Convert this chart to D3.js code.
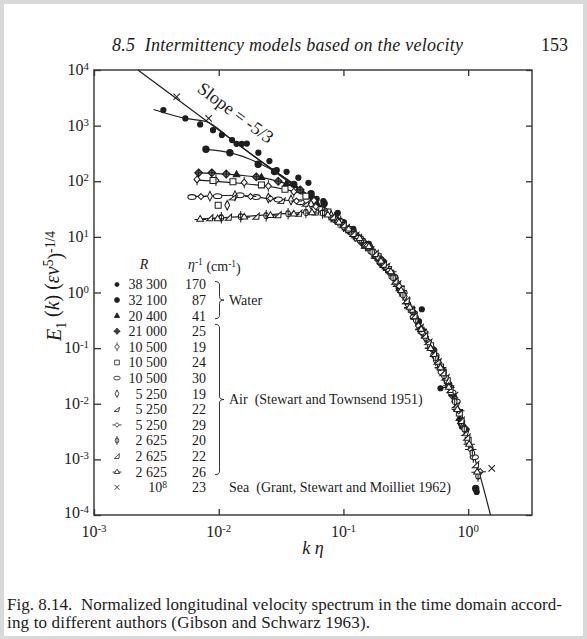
<!DOCTYPE html>
<html>
<head>
<meta charset="utf-8">
<script src="https://cdn.jsdelivr.net/npm/d3@7"></script>
<style>
  html, body { margin: 0; padding: 0; background: #d9d9d9; }
  svg { display: block; }
  text { font-family: "Liberation Serif", "Times New Roman", "DejaVu Serif", serif; fill: #1b1b1b; white-space: pre; }
</style>
</head>
<body>
<svg id="chart" width="587" height="639"></svg>
<script>
// ---------- axis ticks ----------
const xTickValues = [1e-3, 1e-2, 1e-1, 1e0];
const xTickExponents = ["-3", "-2", "-1", "0"];
const yTickValues = [1e4, 1e3, 1e2, 1e1, 1e0, 1e-1, 1e-2, 1e-3, 1e-4];
const yTickExponents = ["4", "3", "2", "1", "0", "-1", "-2", "-3", "-4"];

// ---------- legend table ----------
const legendReynolds = ["38 300", "32 100", "20 400", "21 000", "10 500", "10 500", "10 500",
                        "5 250", "5 250", "5 250", "2 625", "2 625", "2 625", "10"];
const legendReynoldsExp = ["", "", "", "", "", "", "", "", "", "", "", "", "", "8"];
const legendEtaInv = ["170", "87", "41", "25", "19", "24", "30", "19", "22", "29", "20", "22", "26", "23"];
const groupWater = "Water";
const groupAir = "Air  (Stewart and Townsend 1951)";
const groupSea = "Sea  (Grant, Stewart and Moilliet 1962)";

// ---------- measured spectra [k eta, E1(k)(eps nu^5)^-1/4] ----------
const water38300 = [[0.0036,1900],[0.0054,1350],[0.0071,1050],[0.009,830],[0.0106,680],[0.0128,550],
  [0.0139,470],[0.0153,468],[0.0168,475],[0.0208,326],[0.0255,231],[0.0292,158],[0.035,148],[0.0435,116],
  [0.0524,94],[0.0557,52],[0.061,48],[0.069,44],[0.09,27],[0.12,14],[0.16,7.5],[0.21,3.6],[0.26,1.9],
  [0.33,0.62],[0.425,0.5],[0.6,0.019],[0.89,0.0039],[1.17,0.00026]];
const water32100 = [[0.0079,375],[0.0123,326],[0.0207,202],[0.028,150],[0.04,88],[0.055,60],[0.07,40],
  [0.1,18],[0.15,7.4],[0.2,3.9],[0.28,1.2],[0.4,0.3],[0.55,0.07],[0.7,0.022],[0.88,0.0045],[1.15,0.0003]];
const water20400 = [[0.0139,132],[0.022,118],[0.035,92],[0.06,44],[0.09,20],[0.13,10],[0.19,4.2],
  [0.3,0.95],[0.45,0.17],[0.62,0.042],[0.85,0.0055]];
const air21000 = [[0.0069,142],[0.0088,142],[0.0115,135],[0.02,120],[0.03,100],[0.045,70],[0.07,30],
  [0.11,13],[0.17,5.5],[0.24,2.2],[0.36,0.45],[0.52,0.095],[0.75,0.014],
  [0.09,19],[0.14,8],[0.2,3.3],[0.3,0.95],[0.44,0.18],[0.62,0.04],[0.95,0.0035]];
const air10500a = [[0.0067,108],[0.0095,104],[0.016,95],[0.025,82],[0.04,65],[0.058,45],[0.085,22],
  [0.125,10.5],[0.18,4.8],[0.27,1.5],[0.4,0.25],[0.58,0.055],[0.9,0.0042],
  [0.1,15.5],[0.15,7],[0.22,2.8],[0.33,0.6],[0.48,0.13],[0.7,0.02],[1.1,0.0011]];
const air10500b = [[0.0099,37],[0.009,103],[0.013,98],[0.022,86],[0.034,72],[0.05,54],[0.075,28],
  [0.11,13.5],[0.16,6.4],[0.23,2.6],[0.35,0.5],[0.5,0.11],[0.68,0.026],[1.0,0.0022],
  [0.092,19],[0.13,9.5],[0.19,4.4],[0.29,1.15],[0.42,0.21],[0.6,0.046],[0.85,0.0068]];
const air10500c = [[0.0061,52],[0.0098,54],[0.0148,56],[0.02,52],[0.03,47],[0.045,42],[0.065,32],
  [0.095,18],[0.14,8.5],[0.2,3.5],[0.3,1.0],[0.44,0.19],[0.62,0.037],[0.8,0.011],
  [0.082,22],[0.12,11.5],[0.17,5.4],[0.25,1.9],[0.37,0.36],[0.54,0.075],[0.74,0.016],[1.12,0.0011]];
const air5250a = [[0.0117,37],[0.0085,54],[0.0135,55],[0.025,50],[0.038,46],[0.055,38],[0.08,24],
  [0.12,12],[0.17,5.8],[0.25,2.0],[0.38,0.33],[0.55,0.06],[0.78,0.012],[1.05,0.0016],
  [0.1,16],[0.14,8.6],[0.21,3.1],[0.31,0.85],[0.45,0.16],[0.66,0.028],[0.9,0.0048]];
const air5250b = [[0.013,52],[0.032,45],[0.05,40],[0.07,28],[0.105,15],[0.15,7],[0.22,3],[0.32,0.7],
  [0.48,0.13],[0.66,0.03],[0.95,0.003],
  [0.085,21],[0.125,10.8],[0.18,4.6],[0.27,1.45],[0.41,0.24],[0.57,0.058],[0.8,0.0095]];
const air5250c = [[0.0072,53],[0.018,53],[0.026,49],[0.042,44],[0.06,35],[0.088,20],[0.13,9.8],
  [0.19,4.2],[0.28,1.3],[0.42,0.22],[0.6,0.045],[0.84,0.0075],[1.25,0.0006],
  [0.1,15],[0.155,6.5],[0.23,2.5],[0.34,0.52],[0.5,0.1],[0.7,0.021],[1.05,0.0015]];
const air2625a = [[0.0105,22],[0.015,23],[0.024,24],[0.036,26],[0.05,27.5],[0.068,27],[0.095,19],
  [0.14,9],[0.2,3.8],[0.3,0.9],[0.46,0.15],[0.64,0.032],[0.93,0.0035],[1.2,0.0005],
  [0.085,22],[0.12,11],[0.17,5.3],[0.25,1.85],[0.38,0.32],[0.55,0.068],[0.78,0.011],[1.08,0.0013]];
const air2625b = [[0.0085,22],[0.012,22.5],[0.02,23.5],[0.03,25],[0.044,26.5],[0.06,28],[0.082,23],
  [0.12,11.5],[0.18,5],[0.26,1.6],[0.37,0.38],[0.53,0.08],[0.72,0.018],[0.98,0.0025],
  [0.1,16.5],[0.15,7.2],[0.21,3.2],[0.32,0.72],[0.45,0.17],[0.63,0.036],[0.88,0.005],[1.15,0.0008]];
const air2625c = [[0.0071,21],[0.0098,21.5],[0.016,23],[0.026,24.5],[0.04,26],[0.056,27.5],[0.075,25],
  [0.11,14],[0.16,6.8],[0.24,2.4],[0.34,0.55],[0.5,0.1],[0.7,0.02],[1.02,0.0019],
  [0.092,18.5],[0.135,9.5],[0.2,3.7],[0.29,1.1],[0.42,0.22],[0.6,0.045],[0.82,0.008],[1.18,0.0006]];
const sea1e8 = [[0.0046,3300],[0.0083,1350],[0.785,0.0143],[1.545,0.00069]];

// ---------- fitted curves ----------
const fitA = [[0.0030,1950],[0.0054,1350],[0.0080,1175],[0.0126,570],[0.02,265],[0.0316,128],[0.05,60],[0.079,24]];
const fitB = [[0.0079,375],[0.0123,326],[0.0207,215],[0.0316,128],[0.05,60],[0.079,24]];
const fitC = [[0.0069,142],[0.0139,130],[0.0274,105],[0.045,70],[0.06,42],[0.079,24]];
const fitD = [[0.0067,105],[0.0148,92],[0.031,74],[0.0508,54],[0.065,36],[0.079,24]];
const fitE = [[0.0061,53],[0.0148,56],[0.0243,49],[0.0508,40],[0.065,31],[0.079,24]];
const fitF = [[0.0071,21],[0.0178,23.7],[0.0373,26.5],[0.0649,28],[0.079,24]];
const fitUniversal = [[0.079,24],[0.1,16.5],[0.126,10.5],[0.158,6.2],[0.2,3.6],[0.251,1.86],[0.316,0.76],
  [0.398,0.275],[0.5,0.107],[0.631,0.037],[0.794,0.01],[1.0,0.0024],[1.259,0.00047],[1.51,0.0001]];
// -5/3 reference line end points
const slopeLine = [[0.00225,10000],[0.1,18]];

// ---------- layout ----------
const svg = d3.select("#chart");
const plot = { left: 94, right: 532, top: 70, bottom: 515 };

svg.append("rect").attr("x", 4).attr("y", 4).attr("width", 579).attr("height", 632).attr("fill", "#ffffff");

const x = d3.scaleLog().domain([1e-3, 3.25]).range([plot.left, plot.right]);
const y = d3.scaleLog().domain([1e-4, 1e4]).range([plot.bottom, plot.top]);

const ink = "#1e1e1e";

// header
svg.append("text").attr("x", 112).attr("y", 51).attr("font-size", 18).attr("font-style", "italic")
  .attr("textLength", 351).attr("lengthAdjust", "spacing")
  .text("8.5  Intermittency models based on the velocity");
svg.append("text").attr("x", 568).attr("y", 51).attr("font-size", 18).attr("text-anchor", "end").text("153");

// frame
svg.append("rect").attr("x", plot.left).attr("y", plot.top)
  .attr("width", plot.right - plot.left).attr("height", plot.bottom - plot.top)
  .attr("fill", "none").attr("stroke", "#4a4a4a").attr("stroke-width", 1.6);

// inward ticks on all four sides
const noLabel = () => "";
function styleAxis(g) {
  g.select(".domain").remove();
  g.selectAll(".tick line").attr("stroke", "#333").attr("stroke-width", 1.3);
}
svg.append("g").attr("transform", `translate(0,${plot.bottom})`)
  .call(d3.axisBottom(x).tickValues(xTickValues).tickSize(-6).tickFormat(noLabel)).call(styleAxis);
svg.append("g").attr("transform", `translate(0,${plot.top})`)
  .call(d3.axisTop(x).tickValues(xTickValues).tickSize(-6).tickFormat(noLabel)).call(styleAxis);
svg.append("g").attr("transform", `translate(${plot.left},0)`)
  .call(d3.axisLeft(y).tickValues(yTickValues).tickSize(-7).tickFormat(noLabel)).call(styleAxis);
svg.append("g").attr("transform", `translate(${plot.right},0)`)
  .call(d3.axisRight(y).tickValues(yTickValues).tickSize(-6).tickFormat(noLabel)).call(styleAxis);

// power-of-ten labels
function powerLabel(sel, exp) {
  sel.append("tspan").text("10");
  sel.append("tspan").attr("dy", "-0.45em").attr("font-size", "0.68em").text(exp);
}
xTickValues.forEach((v, i) => {
  const t = svg.append("text").attr("x", x(v)).attr("y", 537).attr("font-size", 16)
    .attr("text-anchor", "middle");
  powerLabel(t, xTickExponents[i]);
});
yTickValues.forEach((v, i) => {
  const t = svg.append("text").attr("x", 89).attr("y", Math.min(y(v) + 5, 518)).attr("font-size", 16)
    .attr("text-anchor", "end");
  powerLabel(t, yTickExponents[i]);
});

// axis titles
const xt = svg.append("text").attr("x", 313).attr("y", 554).attr("font-size", 18)
  .attr("text-anchor", "middle").attr("font-style", "italic");
xt.append("tspan").text("k");
xt.append("tspan").text(" η");

const yt = svg.append("text").attr("transform", "translate(61,286) rotate(-90)")
  .attr("font-size", 20).attr("text-anchor", "middle");
yt.append("tspan").attr("font-style", "italic").text("E");
yt.append("tspan").attr("font-size", "0.68em").attr("dy", "0.35em").text("1");
yt.append("tspan").attr("dy", "-0.35em").text(" (");
yt.append("tspan").attr("font-style", "italic").text("k");
yt.append("tspan").text(") (");
yt.append("tspan").attr("font-style", "italic").text("εν");
yt.append("tspan").attr("font-size", "0.68em").attr("dy", "-0.45em").text("5");
yt.append("tspan").attr("dy", "0.45em").text(")");
yt.append("tspan").attr("font-size", "0.68em").attr("dy", "-0.5em").text("-1/4");

// fitted lines
const line = d3.line().x(d => x(d[0])).y(d => y(d[1])).curve(d3.curveMonotoneX);
const curves = svg.append("g").attr("fill", "none").attr("stroke", ink).attr("stroke-width", 1.2);
[fitA, fitB, fitC, fitD, fitE, fitF, fitUniversal].forEach(c => curves.append("path").attr("d", line(c)));
curves.append("path").attr("d", d3.line().x(d => x(d[0])).y(d => y(d[1]))(slopeLine));

// slope annotation, parallel to the -5/3 line
{
  const [p0, p1] = slopeLine.map(d => [x(d[0]), y(d[1])]);
  const ang = Math.atan2(p1[1] - p0[1], p1[0] - p0[0]);
  const kA = 0.0105;
  const expo = Math.log(slopeLine[1][1] / slopeLine[0][1]) / Math.log(slopeLine[1][0] / slopeLine[0][0]);
  const eA = slopeLine[0][1] * Math.pow(kA / slopeLine[0][0], expo);
  const off = 18;
  const px = x(kA) + off * Math.sin(ang), py = y(eA) - off * Math.cos(ang);
  svg.append("text").attr("transform", `translate(${px},${py}) rotate(${ang * 180 / Math.PI})`)
    .attr("font-size", 18).attr("text-anchor", "middle").text("Slope = -5/3");
}

// marker glyphs
const glyphs = {
  dot:      { d: d3.symbol(d3.symbolCircle, 16)(), fill: ink },
  bigdot:   { d: d3.symbol(d3.symbolCircle, 24)(), fill: ink },
  tri:      { d: "M0,-3.2L2.9,2L-2.9,2Z", fill: ink },
  fdiam:    { d: "M0,-3.4L3.4,0L0,3.4L-3.4,0Z M-3.4,0H3.4 M0,-3.4V3.4", fill: "#6a6a6a" },
  odiamS:   { d: "M0,-3L2.6,0L0,3L-2.6,0Z M0,-3V-5 M0,3V5", fill: "#fff" },
  osq:      { d: "M-2.6,-2.6H2.6V2.6H-2.6Z", fill: "#fff" },
  oval:     { d: "M-3.6,0A3.6,2.1 0 1,0 3.6,0A3.6,2.1 0 1,0 -3.6,0Z", fill: "#fff" },
  odiamV:   { d: "M0,-4.2L2.1,0L0,4.2L-2.1,0Z", fill: "#fff" },
  slant:    { d: "M-3.2,2.4L3,-2.2L1.6,2.6Z", fill: "#fff" },
  odiamH:   { d: "M0,-2.6L2.6,0L0,2.6L-2.6,0Z M-2.6,0H-5 M2.6,0H5", fill: "#fff" },
  phi:      { d: "M0,-5V5 M-2,0A2,2.8 0 1,0 2,0A2,2.8 0 1,0 -2,0Z", fill: "#fff" },
  slantTri: { d: "M-3,2.6L2.6,-2.8L2.2,2.6Z", fill: "#fff" },
  otriH:    { d: "M0,-3L3,2L-3,2Z M-5,0.4H-1.8 M1.8,0.4H5", fill: "#fff" },
  cross:    { d: "M-2.8,-2.8L2.8,2.8M-2.8,2.8L2.8,-2.8", fill: "none" }
};

const seriesList = [
  { data: water38300, g: "dot" }, { data: water32100, g: "bigdot" }, { data: water20400, g: "tri" },
  { data: air21000, g: "fdiam" }, { data: air10500a, g: "odiamS" }, { data: air10500b, g: "osq" },
  { data: air10500c, g: "oval" }, { data: air5250a, g: "odiamV" }, { data: air5250b, g: "slant" },
  { data: air5250c, g: "odiamH" }, { data: air2625a, g: "phi" }, { data: air2625b, g: "slantTri" },
  { data: air2625c, g: "otriH" }, { data: sea1e8, g: "cross" }
];

function drawGlyph(sel, name, scale) {
  const gl = glyphs[name];
  sel.append("path").attr("d", gl.d).attr("fill", gl.fill).attr("stroke", ink)
    .attr("stroke-width", 0.9).attr("transform", `scale(${scale})`);
}

const marks = svg.append("g");
seriesList.forEach(s => {
  s.data.forEach(d => {
    const g = marks.append("g").attr("transform", `translate(${x(d[0])},${y(d[1])})`);
    drawGlyph(g, s.g, 1.15);
  });
});

// ---------- legend ----------
const lg = svg.append("g");
const rowY0 = 284.5, rowStep = 15.6;
lg.append("text").attr("x", 144).attr("y", 269).attr("font-size", 14).attr("text-anchor", "middle")
  .attr("font-style", "italic").text("R");
const eh = lg.append("text").attr("x", 188).attr("y", 269).attr("font-size", 14);
eh.append("tspan").attr("font-style", "italic").text("η");
eh.append("tspan").attr("font-size", "0.68em").attr("dy", "-0.45em").text("-1");
eh.append("tspan").attr("dy", "0.45em").text(" (cm");
eh.append("tspan").attr("font-size", "0.68em").attr("dy", "-0.45em").text("-1");
eh.append("tspan").attr("dy", "0.45em").text(")");

legendReynolds.forEach((r, i) => {
  const cy = rowY0 + i * rowStep;
  const g = lg.append("g").attr("transform", `translate(117,${cy})`);
  drawGlyph(g, seriesList[i].g, 0.9);
  const t = lg.append("text").attr("x", 167).attr("y", cy + 4.8).attr("font-size", 14).attr("text-anchor", "end");
  t.append("tspan").text(r);
  if (legendReynoldsExp[i]) t.append("tspan").attr("font-size", "0.68em").attr("dy", "-0.45em").text(legendReynoldsExp[i]);
  lg.append("text").attr("x", 206).attr("y", cy + 4.8).attr("font-size", 14).attr("text-anchor", "end").text(legendEtaInv[i]);
});

function brace(x0, y1, y2, w) {
  const ym = (y1 + y2) / 2, xm = x0 + w / 2, r = 3.5;
  return `M${x0},${y1} Q${xm},${y1} ${xm},${y1 + r} L${xm},${ym - r} Q${xm},${ym} ${x0 + w},${ym}` +
         ` Q${xm},${ym} ${xm},${ym + r} L${xm},${y2 - r} Q${xm},${y2} ${x0},${y2}`;
}
const r0 = i => rowY0 + i * rowStep;
lg.append("path").attr("d", brace(215, r0(0) - 3, r0(2) + 3, 9)).attr("fill", "none").attr("stroke", ink).attr("stroke-width", 0.9);
lg.append("path").attr("d", brace(215, r0(3) - 7, r0(12) + 3, 9)).attr("fill", "none").attr("stroke", ink).attr("stroke-width", 0.9);
lg.append("text").attr("x", 229).attr("y", r0(1) + 4.8).attr("font-size", 14).text(groupWater);
lg.append("text").attr("x", 229).attr("y", (r0(3) - 7 + r0(12) + 3) / 2 + 4.8).attr("font-size", 14).text(groupAir);
lg.append("text").attr("x", 229).attr("y", r0(13) + 4.8).attr("font-size", 14).text(groupSea);

// ---------- caption ----------
svg.append("text").attr("x", 7).attr("y", 610).attr("font-size", 17)
  .attr("textLength", 555).attr("lengthAdjust", "spacing")
  .text("Fig. 8.14.  Normalized longitudinal velocity spectrum in the time domain accord-");
svg.append("text").attr("x", 7).attr("y", 628).attr("font-size", 17)
  .attr("textLength", 363).attr("lengthAdjust", "spacing")
  .text("ing to different authors (Gibson and Schwarz 1963).");
</script>
</body>
</html>
